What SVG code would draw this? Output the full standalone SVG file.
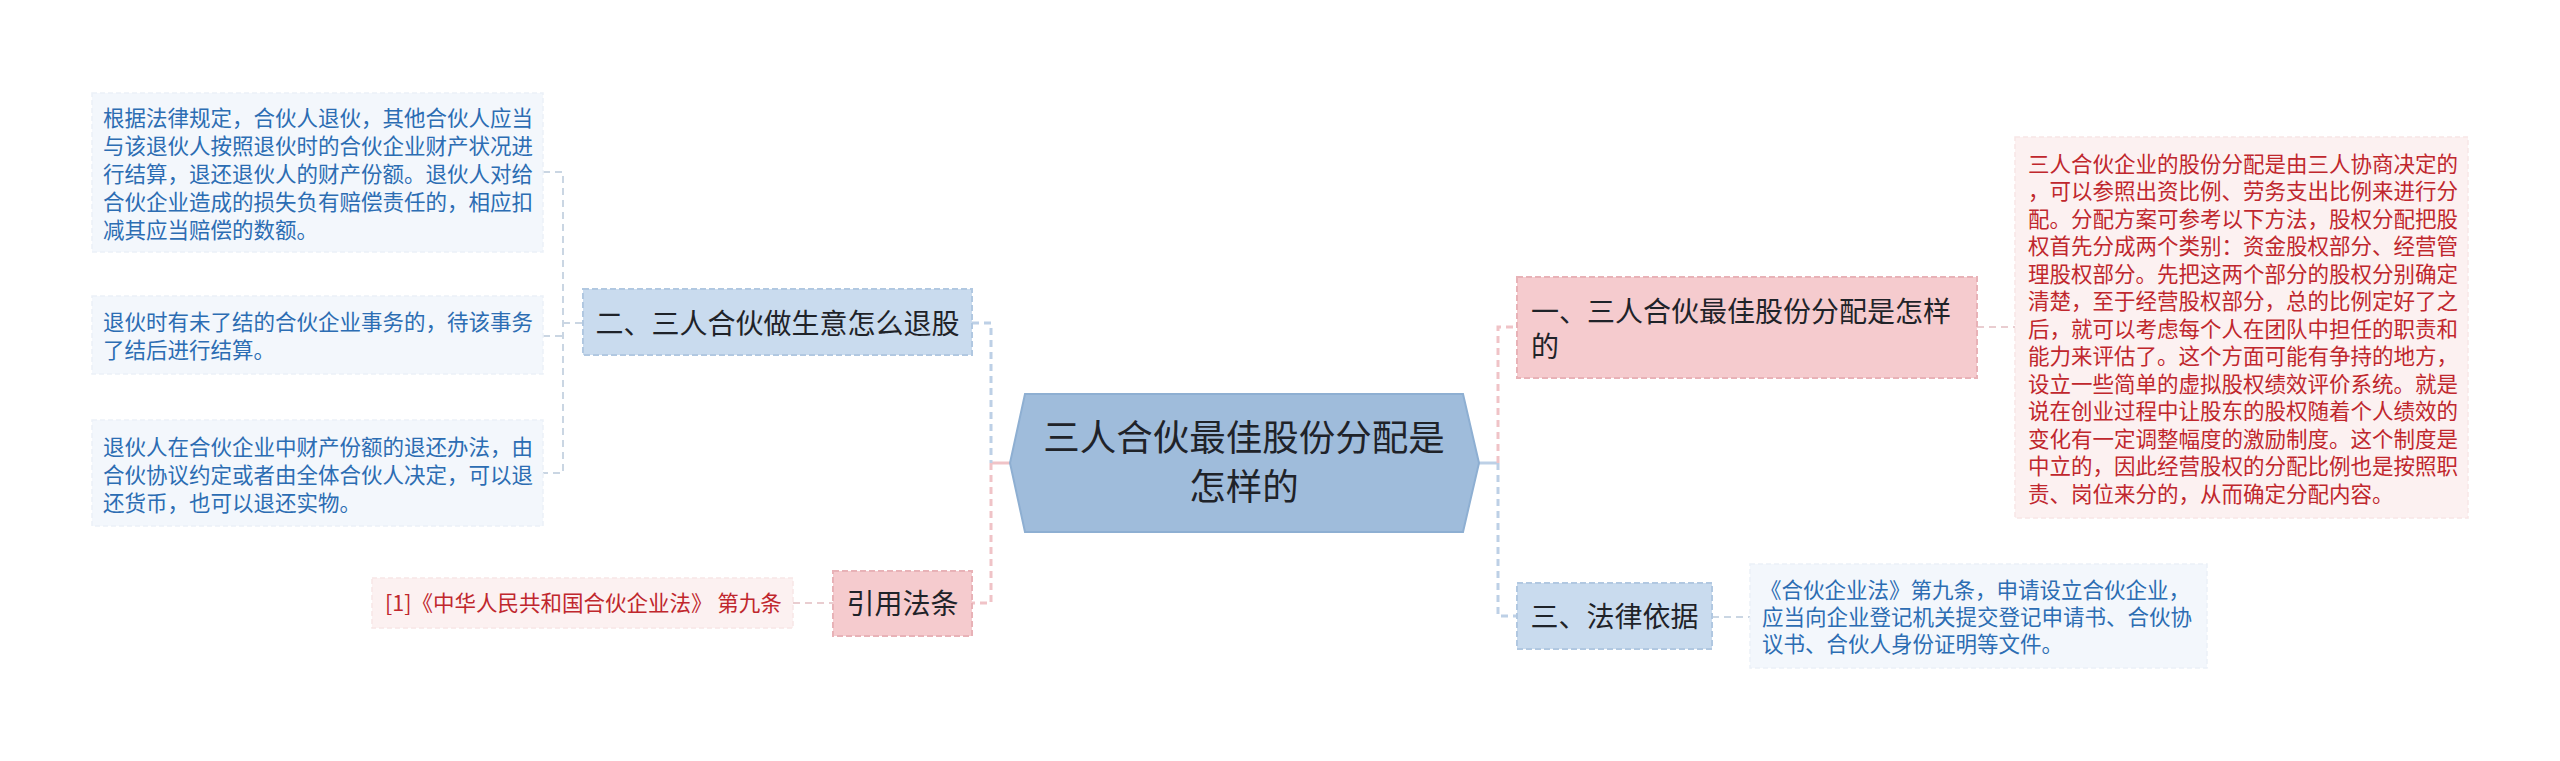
<svg xmlns="http://www.w3.org/2000/svg" width="2560" height="761" viewBox="0 0 2560 761">
<style>
text{font-family:"Noto Sans CJK SC","Noto Sans",sans-serif;}
.main{font-size:36.5px;fill:#1f2329;text-anchor:middle;}
.sub{font-size:28px;fill:#1f2329;}
.leafb{font-size:21.5px;fill:#2c6db3;}
.leafr{font-size:21.5px;fill:#c0272d;}
.nb{fill:#c9dbee;stroke:#b1c8e1;stroke-width:2;stroke-dasharray:6 3;}
.np{fill:#f5cbce;stroke:#e8b2b7;stroke-width:2;stroke-dasharray:6 3;}
.lb{fill:#f3f7fc;stroke:#ebf1f8;stroke-width:1.5;stroke-dasharray:5 3;}
.lr{fill:#fcf1f1;stroke:#f7e6e6;stroke-width:1.5;stroke-dasharray:5 3;}
.cb{fill:none;stroke:#bdd0e6;stroke-width:3;stroke-dasharray:7 5;}
.cp{fill:none;stroke:#f0c3c7;stroke-width:3;stroke-dasharray:7 5;}
.cg{fill:none;stroke:#cad6e3;stroke-width:2;stroke-dasharray:7 5;}
.cgp{fill:none;stroke:#e9cdd0;stroke-width:2;stroke-dasharray:7 5;}
.sb{fill:none;stroke:#bdd0e6;stroke-width:3;}
.sp{fill:none;stroke:#f0c3c7;stroke-width:3;}
</style>
<rect width="2560" height="761" fill="#ffffff"/>
<g id="connectors">
  <path class="sp" d="M991 463 H1010"/>
  <path class="cb" d="M972 323 H991 V463"/>
  <path class="cp" d="M991 463 V603 H972"/>
  <path class="sb" d="M1479 463 H1498"/>
  <path class="cp" d="M1498 463 V327 H1517"/>
  <path class="cb" d="M1498 463 V616 H1517"/>
  <path class="cg" d="M543 172 H563 V473 H543 M543 336 H563 M563 323 H583"/>
  <path class="cgp" d="M793 603 H833"/>
  <path class="cgp" d="M1977 327 H2015"/>
  <path class="cg" d="M1712 617 H1750"/>
</g>
<g id="root">
  <polygon points="1010,463 1025,394 1463,394 1479,463 1463,532 1025,532" fill="#9fbcdb" stroke="#8eafd2" stroke-width="2"/>
  <text class="main" x="1244" y="451">三人合伙最佳股份分配是</text>
  <text class="main" x="1244" y="500">怎样的</text>
</g>
<g id="n2">
  <rect class="nb" x="583" y="289" width="389" height="66"/>
  <text class="sub" x="777.5" y="334" text-anchor="middle">二、三人合伙做生意怎么退股</text>
</g>
<g id="n2-leaf1">
  <rect class="lb" x="92" y="93" width="451" height="159"/>
  <text class="leafb" x="103" y="126">根据法律规定，合伙人退伙，其他合伙人应当</text>
  <text class="leafb" x="103" y="154">与该退伙人按照退伙时的合伙企业财产状况进</text>
  <text class="leafb" x="103" y="182">行结算，退还退伙人的财产份额。退伙人对给</text>
  <text class="leafb" x="103" y="210">合伙企业造成的损失负有赔偿责任的，相应扣</text>
  <text class="leafb" x="103" y="238">减其应当赔偿的数额。</text>
</g>
<g id="n2-leaf2">
  <rect class="lb" x="92" y="296" width="451" height="78"/>
  <text class="leafb" x="103" y="330">退伙时有未了结的合伙企业事务的，待该事务</text>
  <text class="leafb" x="103" y="358">了结后进行结算。</text>
</g>
<g id="n2-leaf3">
  <rect class="lb" x="92" y="420" width="451" height="106"/>
  <text class="leafb" x="103" y="455">退伙人在合伙企业中财产份额的退还办法，由</text>
  <text class="leafb" x="103" y="483">合伙协议约定或者由全体合伙人决定，可以退</text>
  <text class="leafb" x="103" y="511">还货币，也可以退还实物。</text>
</g>
<g id="n-cite">
  <rect class="np" x="833" y="571" width="139" height="65"/>
  <text class="sub" x="902.5" y="614" text-anchor="middle">引用法条</text>
</g>
<g id="cite-leaf">
  <rect class="lr" x="372" y="578" width="421" height="50"/>
  <text class="leafr" x="385" y="611">[1]《中华人民共和国合伙企业法》 第九条</text>
</g>
<g id="n1">
  <rect class="np" x="1517" y="277" width="460" height="101"/>
  <text class="sub" x="1531" y="322">一、三人合伙最佳股份分配是怎样</text>
  <text class="sub" x="1531" y="357">的</text>
</g>
<g id="n1-leaf">
  <rect class="lr" x="2015" y="137" width="453" height="381"/>
  <text class="leafr" x="2028" y="171.5">三人合伙企业的股份分配是由三人协商决定的</text>
  <text class="leafr" x="2028" y="199">，可以参照出资比例、劳务支出比例来进行分</text>
  <text class="leafr" x="2028" y="226.5">配。分配方案可参考以下方法，股权分配把股</text>
  <text class="leafr" x="2028" y="254">权首先分成两个类别：资金股权部分、经营管</text>
  <text class="leafr" x="2028" y="281.5">理股权部分。先把这两个部分的股权分别确定</text>
  <text class="leafr" x="2028" y="309">清楚，至于经营股权部分，总的比例定好了之</text>
  <text class="leafr" x="2028" y="336.5">后，就可以考虑每个人在团队中担任的职责和</text>
  <text class="leafr" x="2028" y="364">能力来评估了。这个方面可能有争持的地方，</text>
  <text class="leafr" x="2028" y="391.5">设立一些简单的虚拟股权绩效评价系统。就是</text>
  <text class="leafr" x="2028" y="419">说在创业过程中让股东的股权随着个人绩效的</text>
  <text class="leafr" x="2028" y="446.5">变化有一定调整幅度的激励制度。这个制度是</text>
  <text class="leafr" x="2028" y="474">中立的，因此经营股权的分配比例也是按照职</text>
  <text class="leafr" x="2028" y="501.5">责、岗位来分的，从而确定分配内容。</text>
</g>
<g id="n3">
  <rect class="nb" x="1517" y="583" width="195" height="66"/>
  <text class="sub" x="1614.5" y="627" text-anchor="middle">三、法律依据</text>
</g>
<g id="n3-leaf">
  <rect class="lb" x="1750" y="564" width="457" height="104"/>
  <text class="leafb" x="1760" y="598">《合伙企业法》第九条，申请设立合伙企业，</text>
  <text class="leafb" x="1762" y="625">应当向企业登记机关提交登记申请书、合伙协</text>
  <text class="leafb" x="1762" y="652">议书、合伙人身份证明等文件。</text>
</g>
</svg>
